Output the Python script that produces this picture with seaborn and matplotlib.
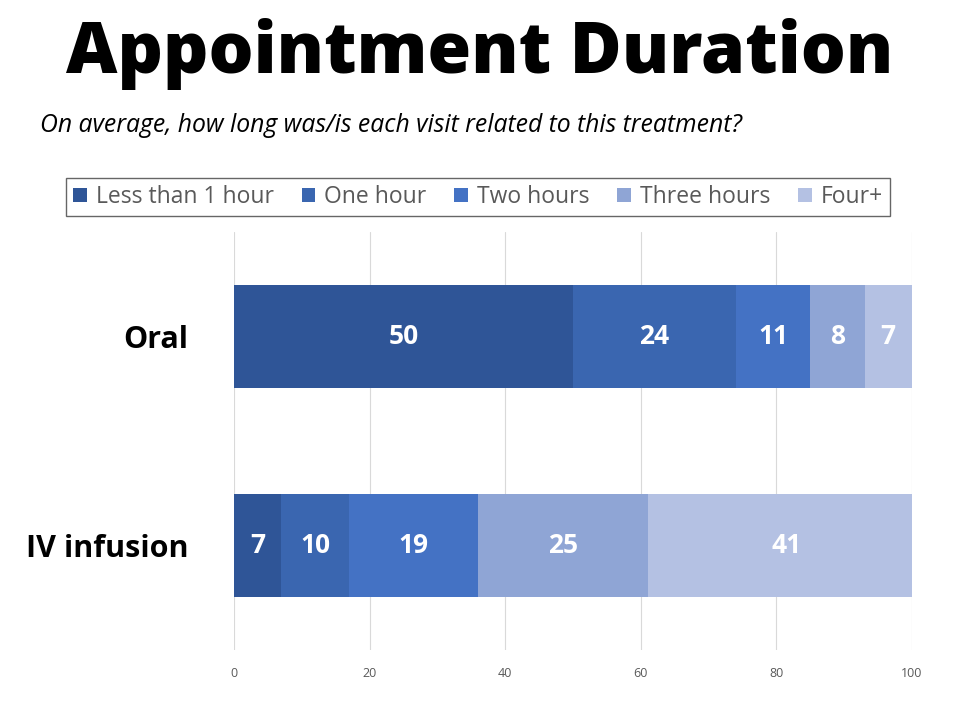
import numpy as np
import pandas as pd
import matplotlib.pyplot as plt
import seaborn as sns

# Chart data
categories = ["Oral", "IV infusion"]
durations = ["Less than 1 hour", "One hour", "Two hours", "Three hours", "Four+"]
oral_values = [50, 24, 11, 8, 7]
iv_values = [7, 10, 19, 25, 41]
x_ticks = [0, 20, 40, 60, 80, 100]

colors = ["#2F5597", "#3A66B0", "#4472C4", "#8FA5D5", "#B4C1E3"]

sns.set_theme(style="white")
plt.rcParams['font.family'] = ['Open Sans', 'DejaVu Sans']

df = pd.DataFrame({"Oral": oral_values, "IV infusion": iv_values}, index=durations)
cum = df.cumsum()

fig = plt.figure(figsize=(9.6, 7.2), dpi=100)
ax = fig.add_axes([0.24375, 0.0972, 0.70625, 0.5806])

# Stacked bars: draw cumulative totals from the widest down
for i in reversed(range(len(durations))):
    sub = pd.DataFrame({"cat": categories, "val": cum.iloc[i].values})
    sns.barplot(data=sub, x="val", y="cat", order=categories, color=colors[i],
                width=0.49, saturation=1, ax=ax, label=durations[i], zorder=2,
                linewidth=0, edgecolor="none")
if ax.get_legend() is not None:
    ax.get_legend().remove()

# value labels in the middle of each segment
for j, cat in enumerate(categories):
    starts = cum[cat].values - df[cat].values
    for s, v in zip(starts, df[cat].values):
        ax.text(s + v / 2, j, str(v), ha="center", va="center", color="white",
                fontsize=19, fontweight="bold", zorder=5)

ax.set_xlim(0, 100)
ax.set_ylim(1.5, -0.5)
ax.set_xticks(x_ticks)
ax.tick_params(axis="x", labelsize=9, labelcolor="#595959", length=0, pad=12)
ax.tick_params(axis="y", labelsize=22, length=0, pad=33)
for lab in ax.get_yticklabels():
    lab.set_fontweight("bold")
    lab.set_color("black")
ax.set_xlabel("")
ax.set_ylabel("")
ax.grid(axis="x", color="#D9D9D9", linewidth=0.8, zorder=0)
ax.set_axisbelow(True)
for sp in ax.spines.values():
    sp.set_visible(False)

# legend in original order
handles, labels = ax.get_legend_handles_labels()
order = [labels.index(d) for d in durations]
leg = fig.legend([handles[k] for k in order], durations, loc="center",
                 bbox_to_anchor=(0.498, 0.7264), ncol=5, frameon=True, fontsize=16.5,
                 handlelength=0.6, handleheight=0.6, handletextpad=0.4,
                 columnspacing=1.2, borderpad=0.3, fancybox=False)
leg.get_frame().set_edgecolor("#404040")
leg.get_frame().set_linewidth(1.0)
for t in leg.get_texts():
    t.set_color("#595959")

fig.text(0.5, 0.925, "Appointment Duration", ha="center", va="center",
         fontsize=51, fontweight="heavy", color="black")
fig.text(0.042, 0.826, "On average, how long was/is each visit related to this treatment?",
         ha="left", va="center", fontsize=17.8, style="italic", color="black")

fig.savefig("out.png", dpi=100)
